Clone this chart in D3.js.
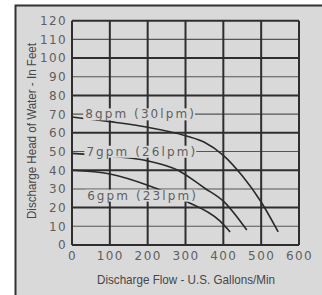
<!DOCTYPE html>
<html>
<head>
<meta charset="utf-8">
<script src="https://cdn.jsdelivr.net/npm/d3@7"></script>
<style>
  body { margin: 0; background: #fff; }
  svg { display: block; }
  .tick text { font-family: "DejaVu Sans", sans-serif; font-size: 12px; fill: #5f5f5f; letter-spacing: 1.4px; }
  .title { font-family: "Liberation Sans", Arial, sans-serif; font-size: 13px; fill: #474747; }
  .curveLabel { font-family: "DejaVu Sans", sans-serif; font-size: 12px; fill: #5f5f5f; letter-spacing: 2.1px; }
</style>
</head>
<body>
<script>
// chart values
var flowTicks = [0, 100, 200, 300, 400, 500, 600];
var headTicks = [0, 10, 20, 30, 40, 50, 60, 70, 80, 90, 100, 110, 120];

var flow8 = [0, 100, 200, 300, 350, 400, 450, 500, 545];
var head8 = [68.5, 66, 63, 58.5, 55, 48, 37, 23, 7];
var flow7 = [0, 100, 200, 280, 350, 400, 462];
var head7 = [49, 47.5, 45, 40, 30.5, 23.5, 8];
var flow6 = [0, 100, 200, 300, 390, 418];
var head6 = [40, 38, 32, 23.5, 13, 7];

var curveNames = ["8gpm (30lpm)", "7gpm (26lpm)", "6gpm (23lpm)"];
var labelHeads = [70, 50, 26.5];
var labelFlows = [35, 38, 40];

var svgWidth = 322;
var svgHeight = 295;

var svg = d3.select("body").append("svg")
    .attr("width", svgWidth)
    .attr("height", svgHeight);

// grey panel with dark left/top edge
svg.append("rect")
    .attr("x", 15).attr("y", 5)
    .attr("width", svgWidth - 15).attr("height", svgHeight - 5)
    .attr("fill", "#d9d9d9");
svg.append("path")
    .attr("d", `M15.5,${svgHeight}V5.5H${svgWidth}`)
    .attr("fill", "none")
    .attr("stroke", "#333")
    .attr("stroke-width", 2);

var x = d3.scaleLinear().domain([0, 600]).range([72, 299]);
var y = d3.scaleLinear().domain([0, 120]).range([245, 20.7]);

var chartGroup = svg.append("g");

// horizontal grid lines, heavy on every 20
chartGroup.selectAll(".hgrid")
    .data(headTicks)
    .enter()
    .append("line")
    .attr("x1", x(0)).attr("x2", x(600))
    .attr("y1", d => y(d)).attr("y2", d => y(d))
    .attr("stroke", d => d % 20 === 0 ? "#2e2e2e" : "#555")
    .attr("stroke-width", d => d % 20 === 0 ? 2 : 1.1);

// vertical grid lines
chartGroup.selectAll(".vgrid")
    .data(flowTicks)
    .enter()
    .append("line")
    .attr("x1", d => x(d)).attr("x2", d => x(d))
    .attr("y1", y(0)).attr("y2", y(120))
    .attr("stroke", "#2e2e2e")
    .attr("stroke-width", 2);

// pump curves
var line = d3.line()
    .x(d => x(d[0]))
    .y(d => y(d[1]))
    .curve(d3.curveMonotoneX);

var curves = [
    d3.zip(flow8, head8),
    d3.zip(flow7, head7),
    d3.zip(flow6, head6)
];

chartGroup.selectAll(".pump")
    .data(curves)
    .enter()
    .append("path")
    .attr("d", line)
    .attr("fill", "none")
    .attr("stroke", "#2a2a2a")
    .attr("stroke-width", 1.6);

// curve labels with panel-coloured backing
curveNames.forEach(function (name, i) {
    var t = chartGroup.append("text")
        .classed("curveLabel", true)
        .attr("x", x(labelFlows[i]))
        .attr("y", y(labelHeads[i]))
        .attr("dy", "0.35em")
        .text(name);
    var bb = t.node().getBBox();
    chartGroup.insert("rect", function () { return t.node(); })
        .attr("x", bb.x - 2).attr("y", bb.y + 1)
        .attr("width", bb.width + 1).attr("height", bb.height - 2)
        .attr("fill", "#d9d9d9");
});

// axes (labels only)
var leftAxis = d3.axisLeft(y).tickValues(headTicks).tickSize(0).tickPadding(5);
var bottomAxis = d3.axisBottom(x).tickValues(flowTicks).tickSize(0).tickPadding(6);

var yAxis = svg.append("g")
    .attr("transform", `translate(${x(0)},0)`)
    .call(leftAxis);
yAxis.select(".domain").remove();

var xAxis = svg.append("g")
    .attr("transform", `translate(0,${y(0)})`)
    .call(bottomAxis);
xAxis.select(".domain").remove();

// axis titles (condensed face)
svg.append("text")
    .classed("title", true)
    .attr("x", 186)
    .attr("y", 284)
    .attr("text-anchor", "middle")
    .attr("textLength", 178)
    .attr("lengthAdjust", "spacingAndGlyphs")
    .text("Discharge Flow - U.S. Gallons/Min");

svg.append("text")
    .classed("title", true)
    .attr("transform", "translate(36,131) rotate(-90)")
    .attr("text-anchor", "middle")
    .attr("textLength", 176)
    .attr("lengthAdjust", "spacingAndGlyphs")
    .text("Discharge Head of Water - In Feet");
</script>
</body>
</html>
